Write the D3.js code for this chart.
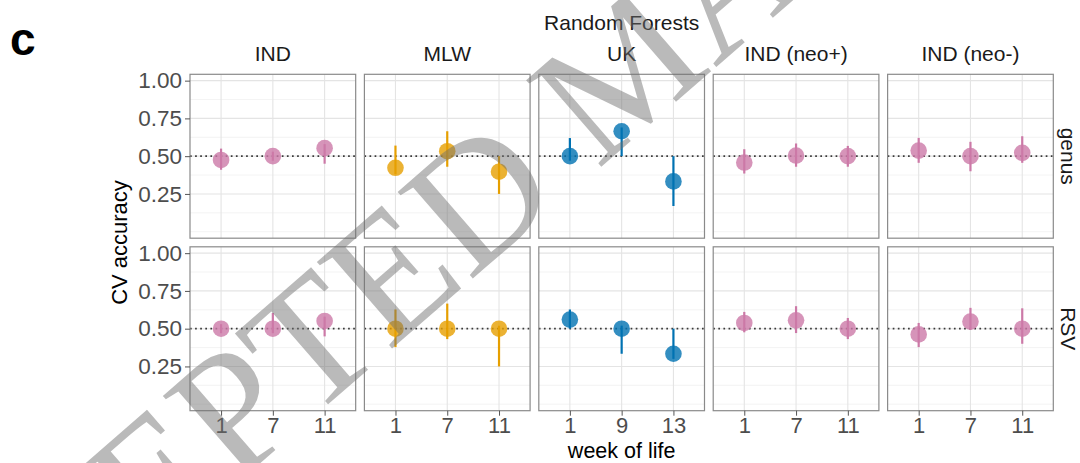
<!DOCTYPE html>
<html><head><meta charset="utf-8">
<script src="https://cdn.jsdelivr.net/npm/d3@7"></script>
<style>
body{margin:0;background:#fff}
svg{display:block}
text{font-family:"Liberation Sans",Arial,Helvetica,sans-serif}
text.wm{font-family:"Liberation Serif","Times New Roman",serif}
</style>
</head><body>
<svg id="chart" width="1080" height="463"></svg>
<script>
// ---- data ----
const sites = ["IND", "MLW", "UK", "IND (neo+)", "IND (neo-)"];
const weeksBySite = [["1","7","11"], ["1","7","11"], ["1","9","13"], ["1","7","11"], ["1","7","11"]];
const outcomes = ["genus", "RSV"];
const siteColors = ["#CC79A7", "#E69F00", "#0072B2", "#CC79A7", "#CC79A7"];
const yTicks = [0.25, 0.50, 0.75, 1.00];
const yMinor = [0, 0.125, 0.375, 0.625, 0.875];
const chance = 0.5;

// genus: mean, lower, upper  (per site, per week)
const genusMean = [[0.475, 0.50, 0.553], [0.423, 0.533, 0.397], [0.50, 0.665, 0.333], [0.458, 0.504, 0.50], [0.537, 0.50, 0.522]];
const genusLow  = [[0.41, 0.47, 0.45],   [0.38, 0.43, 0.25],    [0.47, 0.50, 0.17],   [0.385, 0.43, 0.43], [0.456, 0.40, 0.456]];
const genusHigh = [[0.55, 0.53, 0.58],   [0.57, 0.665, 0.50],   [0.62, 0.69, 0.50],   [0.546, 0.584, 0.568], [0.621, 0.595, 0.632]];
// RSV
const rsvMean = [[0.50, 0.50, 0.551], [0.50, 0.50, 0.50], [0.56, 0.50, 0.334], [0.538, 0.555, 0.50], [0.462, 0.547, 0.50]];
const rsvLow  = [[0.47, 0.47, 0.449], [0.378, 0.431, 0.25], [0.50, 0.334, 0.30], [0.476, 0.471, 0.431], [0.378, 0.493, 0.40]];
const rsvHigh = [[0.53, 0.604, 0.58], [0.627, 0.666, 0.52], [0.627, 0.52, 0.50], [0.611, 0.649, 0.571], [0.538, 0.638, 0.635]];

const seriesMean = [genusMean, rsvMean];
const seriesLow = [genusLow, rsvLow];
const seriesHigh = [genusHigh, rsvHigh];

// ---- layout ----
const svg = d3.select("#chart");
const colBand = d3.scaleBand().domain(sites).range([190, 1053.3]).paddingInner(0.05);
const rowBand = d3.scaleBand().domain(outcomes).range([74.3, 410.7]).paddingInner(0.05);
const pw = colBand.bandwidth(), ph = rowBand.bandwidth();
const y = d3.scaleLinear().domain([-0.043, 1.042]).range([ph, 0]);

const FONT = 21, TICKFONT = 22.5;

// panel label
svg.append("text").attr("x", 10).attr("y", 55).attr("font-size", 46).attr("font-weight", "bold").attr("fill", "#000").text("c");

// overall title
svg.append("text").attr("x", (190 + 1053.3) / 2).attr("y", 30).attr("text-anchor", "middle")
  .attr("font-size", FONT).attr("fill", "#1a1a1a").text("Random Forests");

outcomes.forEach((oc, ri) => {
  sites.forEach((site, ci) => {
    const gx = colBand(site), gy = rowBand(oc);
    const g = svg.append("g").attr("transform", `translate(${gx},${gy})`);
    const x = d3.scalePoint().domain(weeksBySite[ci]).range([0, pw]).padding(0.6);
    const col = siteColors[ci];

    g.append("rect").attr("width", pw).attr("height", ph).attr("fill", "#fff");
    // minor grid
    g.selectAll(".mi").data(yMinor).join("line")
      .attr("x1", 0).attr("x2", pw).attr("y1", d => y(d)).attr("y2", d => y(d))
      .attr("stroke", "#f0f0f0").attr("stroke-width", 0.8);
    // major grid
    g.selectAll(".mj").data(yTicks).join("line")
      .attr("x1", 0).attr("x2", pw).attr("y1", d => y(d)).attr("y2", d => y(d))
      .attr("stroke", "#e4e4e4").attr("stroke-width", 1.1);
    g.selectAll(".vx").data(weeksBySite[ci]).join("line")
      .attr("x1", d => x(d)).attr("x2", d => x(d)).attr("y1", 0).attr("y2", ph)
      .attr("stroke", "#e4e4e4").attr("stroke-width", 1.1);
    // chance line
    g.append("line").attr("x1", 0).attr("x2", pw).attr("y1", y(chance)).attr("y2", y(chance))
      .attr("stroke", "#3a3a3a").attr("stroke-width", 1.7).attr("stroke-dasharray", "1.7,3.4");

    const pts = weeksBySite[ci].map((w, i) => ({
      w, m: seriesMean[ri][ci][i], lo: seriesLow[ri][ci][i], hi: seriesHigh[ri][ci][i]
    }));
    g.selectAll(".eb").data(pts).join("line")
      .attr("x1", d => x(d.w)).attr("x2", d => x(d.w))
      .attr("y1", d => y(d.lo)).attr("y2", d => y(d.hi))
      .attr("stroke", col).attr("stroke-width", 2.2);
    g.selectAll(".pt").data(pts).join("circle")
      .attr("cx", d => x(d.w)).attr("cy", d => y(d.m)).attr("r", 8.3)
      .attr("fill", col).attr("fill-opacity", 0.8);

    g.append("rect").attr("width", pw).attr("height", ph).attr("fill", "none")
      .attr("stroke", "#8a8a8a").attr("stroke-width", 1.2);

    // y axis on first column
    if (ci === 0) {
      const ya = g.append("g").call(d3.axisLeft(y).tickValues(yTicks).tickFormat(d3.format(".2f")).tickSize(5).tickPadding(3));
      ya.select(".domain").remove();
      ya.selectAll("line").attr("stroke", "#555");
      ya.selectAll("text").attr("font-size", TICKFONT).attr("fill", "#4d4d4d");
    }
    // x axis on bottom row
    if (ri === outcomes.length - 1) {
      const xa = g.append("g").attr("transform", `translate(0,${ph})`)
        .call(d3.axisBottom(x).tickSize(5).tickPadding(2));
      xa.select(".domain").remove();
      xa.selectAll("line").attr("stroke", "#555");
      xa.selectAll("text").attr("font-size", 22).attr("fill", "#4d4d4d");
    }
    // column strips
    if (ri === 0) {
      svg.append("text").attr("x", gx + pw / 2).attr("y", 61).attr("text-anchor", "middle")
        .attr("font-size", FONT).attr("fill", "#1a1a1a").text(site);
    }
  });
  // row strip
  const cy = rowBand(oc) + ph / 2;
  svg.append("text").attr("transform", `translate(1061,${cy}) rotate(90)`)
    .attr("text-anchor", "middle").attr("font-size", FONT).attr("fill", "#1a1a1a").text(oc);
});

// axis titles
svg.append("text").attr("transform", `translate(127,${(74.3 + 410.7) / 2}) rotate(-90)`)
  .attr("text-anchor", "middle").attr("font-size", 22).attr("fill", "#000").text("CV accuracy");
svg.append("text").attr("x", (190 + 1053.3) / 2).attr("y", 458).attr("text-anchor", "middle")
  .attr("font-size", 21.5).attr("fill", "#000").text("week of life");

// manuscript watermark overlay
svg.append("text").attr("class", "wm")
  .attr("transform", "translate(-118,792) rotate(-41)")
  .attr("font-size", 175).attr("fill", "#6e6e6e").attr("fill-opacity", 0.48)
  .style("pointer-events", "none")
  .text("ACCEPTED MANUSCRIPT");
</script>
</body></html>
